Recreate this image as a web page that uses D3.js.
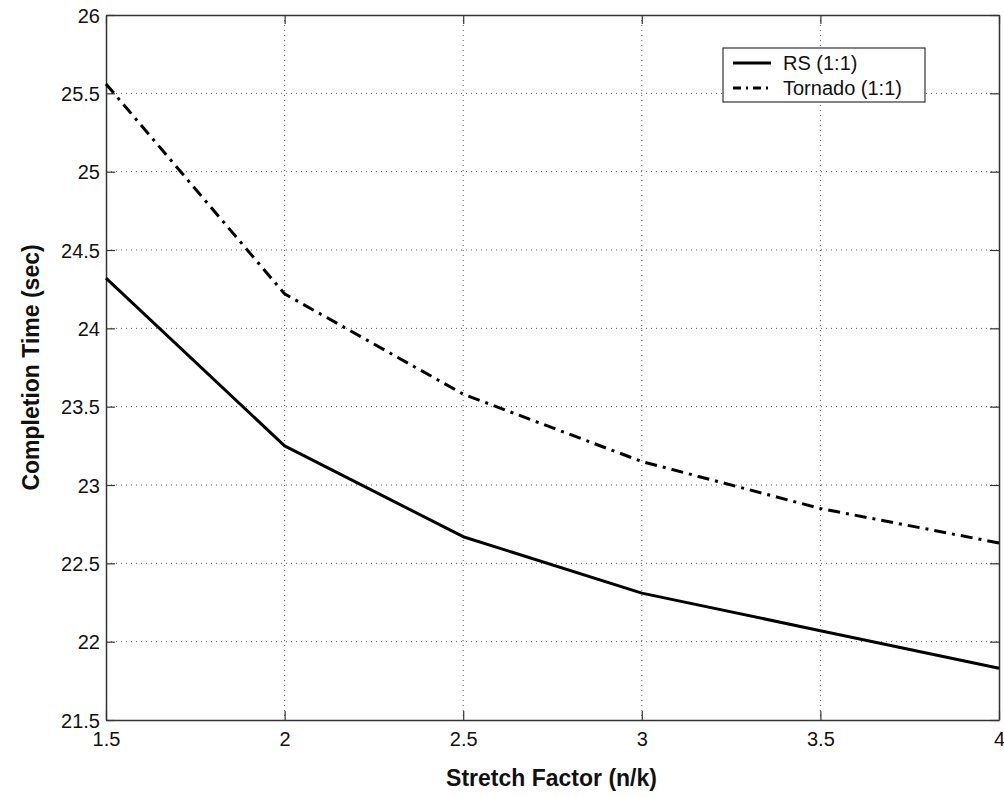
<!DOCTYPE html>
<html>
<head>
<meta charset="utf-8">
<script src="https://cdn.jsdelivr.net/npm/d3@7"></script>
<style>
  html, body { margin: 0; padding: 0; background: #fff; }
  svg { display: block; font-family: "Liberation Sans", Arial, sans-serif; }
</style>
</head>
<body>
<script>
// Stretch factor (n/k) on the x axis
const stretch = [1.5, 2, 2.5, 3, 3.5, 4];
// Completion time in seconds
const rsTime = [24.32, 23.25, 22.67, 22.31, 22.07, 21.83];
const tornadoTime = [25.56, 24.22, 23.58, 23.15, 22.85, 22.63];
const seriesNames = ["RS (1:1)", "Tornado (1:1)"];
const xTicks = [1.5, 2, 2.5, 3, 3.5, 4];
const yTicks = [21.5, 22, 22.5, 23, 23.5, 24, 24.5, 25, 25.5, 26];

const W = 1004, H = 797;
const margin = { left: 106, right: 5, top: 15, bottom: 77 };
const iw = W - margin.left - margin.right;
const ih = H - margin.top - margin.bottom;

const svg = d3.select("body").append("svg").attr("width", W).attr("height", H);
const g = svg.append("g").attr("transform", `translate(${margin.left},${margin.top})`);

const x = d3.scaleLinear().domain([1.5, 4]).range([0, iw]);
const y = d3.scaleLinear().domain([21.5, 26]).range([ih, 0]);

// dotted grid
g.append("g").selectAll("line").data(xTicks.slice(1, -1)).join("line")
  .attr("x1", d => x(d)).attr("x2", d => x(d)).attr("y1", 0).attr("y2", ih)
  .attr("stroke", "#555").attr("stroke-width", 1).attr("stroke-dasharray", "1,4");
g.append("g").selectAll("line").data(yTicks.slice(1, -1)).join("line")
  .attr("y1", d => y(d)).attr("y2", d => y(d)).attr("x1", 0).attr("x2", iw)
  .attr("stroke", "#555").attr("stroke-width", 1).attr("stroke-dasharray", "1,4");

// axes with inward ticks on all four sides
const axFont = "20px";
const xAxis = g.append("g").attr("transform", `translate(0,${ih})`)
  .call(d3.axisBottom(x).tickValues(xTicks).tickFormat(d3.format("")).tickSizeInner(-9).tickSizeOuter(0).tickPadding(12));
const yAxis = g.append("g")
  .call(d3.axisLeft(y).tickValues(yTicks).tickFormat(d3.format("")).tickSizeInner(-9).tickSizeOuter(0).tickPadding(6));
g.append("g")
  .call(d3.axisTop(x).tickValues(xTicks).tickFormat("").tickSizeInner(-9).tickSizeOuter(0));
g.append("g").attr("transform", `translate(${iw},0)`)
  .call(d3.axisRight(y).tickValues(yTicks).tickFormat("").tickSizeInner(-9).tickSizeOuter(0));
g.selectAll(".domain").attr("stroke", "#333").attr("stroke-width", 1.5);
g.selectAll(".tick line").attr("stroke", "#333").attr("stroke-width", 1.2);
g.selectAll(".tick text").attr("fill", "#111").style("font-size", axFont)
  .style("font-family", "'Liberation Sans', Arial, sans-serif");
yAxis.selectAll(".tick text").attr("dy", "0.36em");

// series lines
const line = d3.line().x((d, i) => x(stretch[i])).y(d => y(d));
g.append("path").datum(rsTime).attr("d", line)
  .attr("fill", "none").attr("stroke", "#000").attr("stroke-width", 3).attr("stroke-linejoin", "round");
g.append("path").datum(tornadoTime).attr("d", line)
  .attr("fill", "none").attr("stroke", "#000").attr("stroke-width", 3)
  .attr("stroke-dasharray", "12,6,3,6");

// legend
const lg = svg.append("g").attr("transform", "translate(723,48)");
lg.append("rect").attr("width", 202).attr("height", 54)
  .attr("fill", "#fff").attr("stroke", "#333").attr("stroke-width", 1.2);
const legendStyles = [null, "8,5,2,5"];
seriesNames.forEach((name, i) => {
  const cy = 15 + i * 25;
  lg.append("line").attr("x1", 10).attr("x2", 48).attr("y1", cy).attr("y2", cy)
    .attr("stroke", "#000").attr("stroke-width", 3)
    .attr("stroke-dasharray", legendStyles[i]);
  lg.append("text").attr("x", 60).attr("y", cy).attr("dy", "0.35em")
    .style("font-size", "20px").attr("fill", "#111").text(name);
});

// axis titles
svg.append("text").attr("x", margin.left + iw / 2 - 1).attr("y", 786)
  .attr("text-anchor", "middle").style("font-size", "23px").style("font-weight", "bold")
  .attr("fill", "#111").text("Stretch Factor (n/k)");
svg.append("text").attr("transform", `translate(39,${margin.top + ih / 2}) rotate(-90)`)
  .attr("text-anchor", "middle").style("font-size", "23px").style("font-weight", "bold")
  .attr("fill", "#111").text("Completion Time (sec)");
</script>
</body>
</html>
